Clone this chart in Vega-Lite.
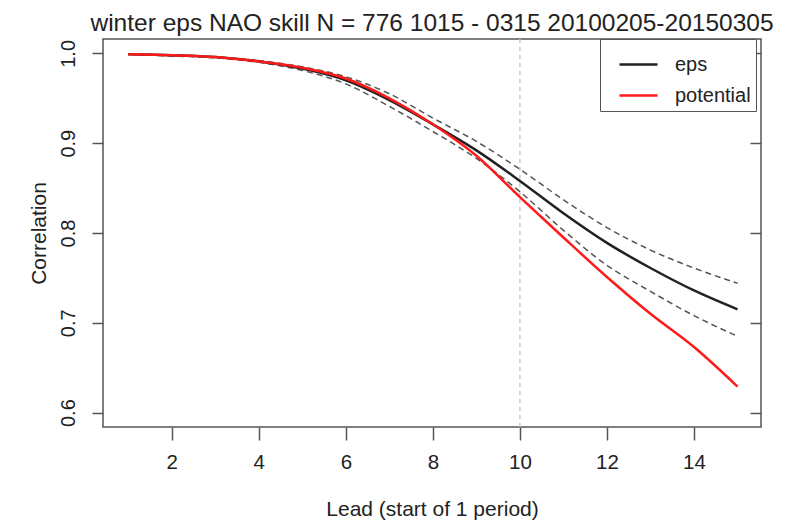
{
  "$schema": "https://vega.github.io/schema/vega-lite/v6.json",
  "width": 658,
  "height": 388,
  "autosize": {"type": "none"},
  "padding": {"left": 103, "top": 39, "right": 38, "bottom": 102},
  "background": "white",
  "config": {
    "font": "Liberation Sans",
    "view": {"stroke": "#555", "strokeWidth": 1.5},
    "legend": {"strokeColor": "#555"},
    "axis": {"grid": false, "domain": false, "tickColor": "#555", "tickWidth": 1.5, "labelColor": "#222", "titleColor": "#222", "labelFont": "Liberation Sans", "titleFont": "Liberation Sans", "titleFontWeight": "normal"}
  },
  "title": {"text": "winter eps NAO skill N = 776 1015 - 0315 20100205-20150305", "fontSize": 24.5, "fontWeight": "normal", "color": "#222", "offset": 2, "anchor": "middle"},
  "datasets": {
    "main": [
      {"lead": 1, "value": 0.999, "series": "eps"},
      {"lead": 2, "value": 0.998, "series": "eps"},
      {"lead": 3, "value": 0.996, "series": "eps"},
      {"lead": 4, "value": 0.991, "series": "eps"},
      {"lead": 5, "value": 0.983, "series": "eps"},
      {"lead": 6, "value": 0.970, "series": "eps"},
      {"lead": 7, "value": 0.948, "series": "eps"},
      {"lead": 8, "value": 0.921, "series": "eps"},
      {"lead": 9, "value": 0.892, "series": "eps"},
      {"lead": 10, "value": 0.858, "series": "eps"},
      {"lead": 11, "value": 0.822, "series": "eps"},
      {"lead": 12, "value": 0.789, "series": "eps"},
      {"lead": 13, "value": 0.761, "series": "eps"},
      {"lead": 14, "value": 0.736, "series": "eps"},
      {"lead": 15, "value": 0.715, "series": "eps"},
      {"lead": 1, "value": 0.999, "series": "potential"},
      {"lead": 2, "value": 0.998, "series": "potential"},
      {"lead": 3, "value": 0.996, "series": "potential"},
      {"lead": 4, "value": 0.991, "series": "potential"},
      {"lead": 5, "value": 0.984, "series": "potential"},
      {"lead": 6, "value": 0.972, "series": "potential"},
      {"lead": 7, "value": 0.950, "series": "potential"},
      {"lead": 8, "value": 0.921, "series": "potential"},
      {"lead": 9, "value": 0.886, "series": "potential"},
      {"lead": 10, "value": 0.840, "series": "potential"},
      {"lead": 11, "value": 0.795, "series": "potential"},
      {"lead": 12, "value": 0.751, "series": "potential"},
      {"lead": 13, "value": 0.710, "series": "potential"},
      {"lead": 14, "value": 0.673, "series": "potential"},
      {"lead": 15, "value": 0.629, "series": "potential"}
    ],
    "bounds": [
      {"lead": 1, "value": 0.999, "bound": "upper"},
      {"lead": 2, "value": 0.998, "bound": "upper"},
      {"lead": 3, "value": 0.996, "bound": "upper"},
      {"lead": 4, "value": 0.992, "bound": "upper"},
      {"lead": 5, "value": 0.985, "bound": "upper"},
      {"lead": 6, "value": 0.974, "bound": "upper"},
      {"lead": 7, "value": 0.955, "bound": "upper"},
      {"lead": 8, "value": 0.928, "bound": "upper"},
      {"lead": 9, "value": 0.902, "bound": "upper"},
      {"lead": 10, "value": 0.871, "bound": "upper"},
      {"lead": 11, "value": 0.837, "bound": "upper"},
      {"lead": 12, "value": 0.806, "bound": "upper"},
      {"lead": 13, "value": 0.781, "bound": "upper"},
      {"lead": 14, "value": 0.761, "bound": "upper"},
      {"lead": 15, "value": 0.744, "bound": "upper"},
      {"lead": 1, "value": 0.999, "bound": "lower"},
      {"lead": 2, "value": 0.997, "bound": "lower"},
      {"lead": 3, "value": 0.995, "bound": "lower"},
      {"lead": 4, "value": 0.990, "bound": "lower"},
      {"lead": 5, "value": 0.981, "bound": "lower"},
      {"lead": 6, "value": 0.966, "bound": "lower"},
      {"lead": 7, "value": 0.941, "bound": "lower"},
      {"lead": 8, "value": 0.913, "bound": "lower"},
      {"lead": 9, "value": 0.883, "bound": "lower"},
      {"lead": 10, "value": 0.846, "bound": "lower"},
      {"lead": 11, "value": 0.803, "bound": "lower"},
      {"lead": 12, "value": 0.764, "bound": "lower"},
      {"lead": 13, "value": 0.735, "bound": "lower"},
      {"lead": 14, "value": 0.708, "bound": "lower"},
      {"lead": 15, "value": 0.685, "bound": "lower"}
    ],
    "vline": [{"lead": 10}]
  },
  "layer": [
    {
      "data": {"name": "vline"},
      "mark": {"type": "rule", "color": "#c8c8c8", "strokeWidth": 1.5, "strokeDash": [4, 4]},
      "encoding": {
        "x": {
          "field": "lead", "type": "quantitative",
          "scale": {"domain": [0.42, 15.54], "nice": false, "zero": false},
          "axis": {"values": [2, 4, 6, 8, 10, 12, 14], "title": "Lead (start of 1 period)", "tickSize": 13, "labelFontSize": 20.5, "labelPadding": 12, "titleFontSize": 21, "titlePadding": 26}
        }
      }
    },
    {
      "data": {"name": "bounds"},
      "mark": {"type": "line", "color": "#555", "strokeWidth": 1.5, "strokeDash": [6, 4], "interpolate": "monotone"},
      "encoding": {
        "x": {"field": "lead", "type": "quantitative"},
        "y": {
          "field": "value", "type": "quantitative",
          "scale": {"domain": [0.584, 1.016], "nice": false, "zero": false},
          "axis": {"values": [0.6, 0.7, 0.8, 0.9, 1.0], "format": ".1f", "title": "Correlation", "tickSize": 11, "labelAngle": -90, "labelAlign": "center", "labelBaseline": "bottom", "labelFontSize": 20, "labelPadding": 14, "titleFontSize": 21, "titlePadding": 9}
        },
        "detail": {"field": "bound", "type": "nominal"}
      }
    },
    {
      "data": {"name": "main"},
      "mark": {"type": "line", "strokeWidth": 2.5, "interpolate": "monotone"},
      "encoding": {
        "x": {"field": "lead", "type": "quantitative"},
        "y": {"field": "value", "type": "quantitative", "axis": null},
        "color": {
          "field": "series", "type": "nominal",
          "scale": {"domain": ["eps", "potential"], "range": ["#222222", "#ff1a1a"]},
          "legend": {
            "title": null, "orient": "none", "legendX": 497, "legendY": 0,
            "fillColor": "white",
            "padding": 5, "symbolOffset": 13, "symbolType": "stroke", "symbolSize": 1444, "symbolStrokeWidth": 2.5,
            "labelFontSize": 20, "labelColor": "#222", "labelOffset": 16, "rowPadding": 0
          }
        }
      }
    },
    {
      "data": {"name": "main"},
      "mark": {"type": "rule", "opacity": 0},
      "encoding": {
        "y": {"field": "value", "type": "quantitative", "axis": {"orient": "right", "values": [0.6, 0.7, 0.8, 0.9, 1.0], "labels": false, "title": null, "tickSize": 11, "offset": -11}}
      }
    }
  ],
  "resolve": {"axis": {"y": "independent"}}
}
